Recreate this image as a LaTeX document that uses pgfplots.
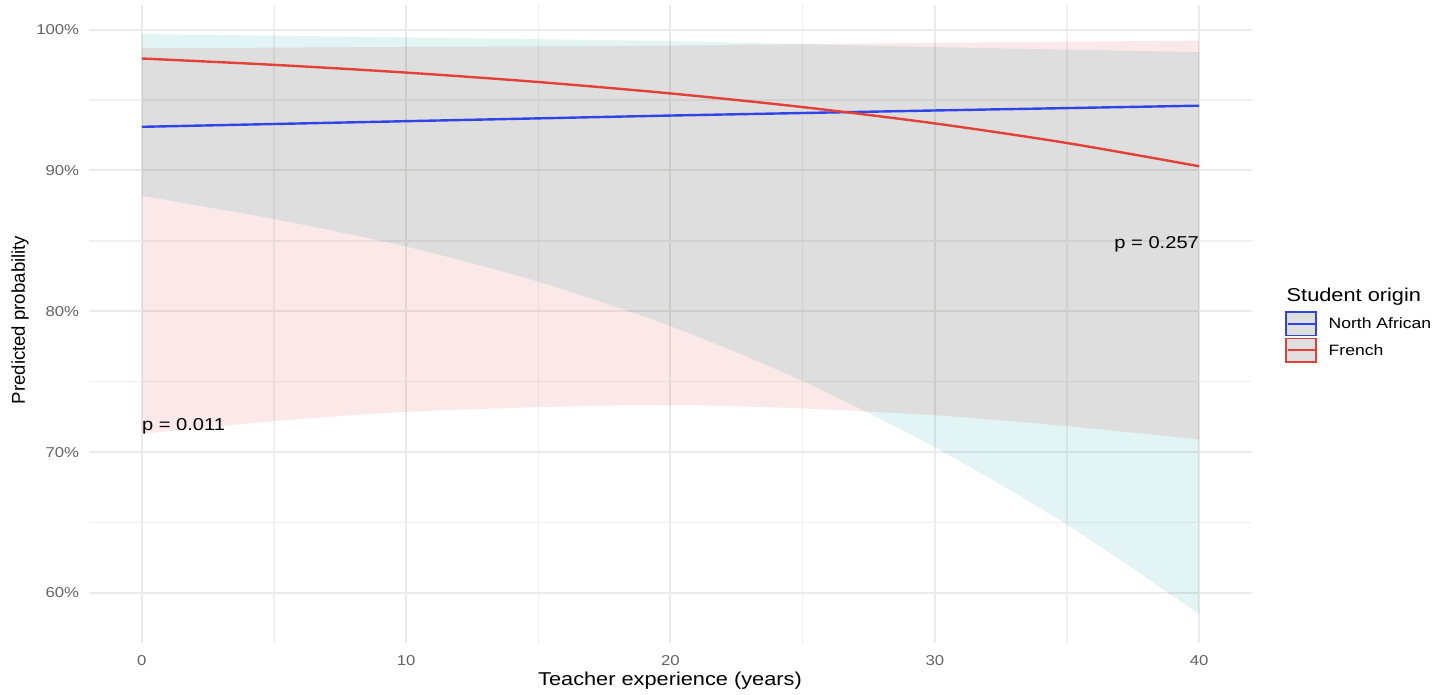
\documentclass[border=0pt]{standalone}
\usepackage{fontspec}
\setmainfont{Liberation Sans}[FakeStretch=1.17]
\newfontfamily\plainsans{Liberation Sans}
\usepackage{pgfplots}
\usepackage{pgfplotstable}
\pgfplotsset{compat=1.18}
\usepgfplotslibrary{fillbetween}
\definecolor{gridc}{RGB}{235,235,235}
\definecolor{gridm}{RGB}{240,240,240}
\definecolor{tealrib}{RGB}{226,244,243}
\definecolor{pinkrib}{RGB}{251,233,233}
\definecolor{lineblue}{RGB}{48,68,232}
\definecolor{linered}{RGB}{228,64,55}
\definecolor{keygray}{RGB}{223,223,223}
\definecolor{ticktext}{RGB}{100,100,100}

% x: teacher experience; nau/nal: North African CI; fru/frl: French CI; nam/frm: predicted (%)
\pgfplotstableread{
x   nau    nal    fru    frl    nam    frm
0   99.69  88.20  98.68  71.30  93.10  97.95
5   99.57  86.55  98.72  72.20  93.30  97.50
10  99.45  84.60  98.77  72.86  93.50  96.95
15  99.32  82.10  98.82  73.19  93.70  96.28
20  99.18  78.95  98.87  73.35  93.90  95.47
25  98.97  75.05  98.97  73.10  94.08  94.50
30  98.76  70.35  99.06  72.62  94.26  93.34
35  98.58  64.85  99.14  71.85  94.43  91.95
40  98.40  58.50  99.22  70.90  94.60  90.30
}\data

\begin{document}
\begin{tikzpicture}[x=1pt,y=1pt]
\begin{axis}[
  at={(89pt,52pt)}, anchor=south west,
  scale only axis, width=1163pt, height=638pt,
  xmin=-2, xmax=42, ymin=56.45, ymax=101.75,
  xtick={0,10,20,30,40}, minor xtick={5,15,25,35},
  ytick={60,70,80,90,100}, minor ytick={65,75,85,95},
  grid=both,
  major grid style={draw=gridc, line width=2pt},
  minor grid style={draw=gridm, line width=1.4pt},
  axis line style={draw=none},
  major tick length=0pt, minor tick length=0pt,
  tick style={draw=none},
  /pgf/number format/assume math mode=true,
  ticklabel style={font=\fontsize{14.3}{16}\selectfont, text=ticktext},
  xticklabel style={anchor=base, inner sep=0pt, yshift=-23pt},
  yticklabel style={anchor=base east, inner sep=0pt, xshift=-9.7pt, yshift=-5pt},
  yticklabel={\pgfmathprintnumber{\tick}\%},
]
\addplot[name path=nau, draw=none, smooth] table[x=x, y=nau]{\data};
\addplot[name path=nal, draw=none, smooth] table[x=x, y=nal]{\data};
\addplot[name path=fru, draw=none, smooth] table[x=x, y=fru]{\data};
\addplot[name path=frl, draw=none, smooth] table[x=x, y=frl]{\data};
\addplot[fill=tealrib, draw=none, blend mode=multiply] fill between[of=nau and nal];
\addplot[fill=pinkrib, draw=none, blend mode=multiply] fill between[of=fru and frl];
\addplot[lineblue, line width=2.4pt, smooth] table[x=x, y=nam]{\data};
\addplot[linered, line width=2.4pt, smooth] table[x=x, y=frm]{\data};
\node[anchor=base west, inner sep=0pt, font=\fontsize{17.2}{19}\selectfont] at (axis cs:0,71.54) {p = 0.011};
\node[anchor=base east, inner sep=0pt, font=\fontsize{17.2}{19}\selectfont] at (axis cs:40,84.47) {p = 0.257};
\end{axis}
% axis titles
\node[anchor=base, inner sep=0pt, font=\fontsize{18.6}{20}\selectfont] at (670,9) {Teacher experience (years)};
\node[anchor=base, inner sep=0pt, rotate=90, font=\plainsans\fontsize{18.6}{20}\selectfont] at (25,375) {Predicted probability};
% legend
\node[anchor=base west, inner sep=0pt, font=\fontsize{18.6}{20}\selectfont] at (1286.5,393.3) {Student origin};
\draw[lineblue, line width=1.5pt, fill=keygray] (1286,359.5) rectangle (1316,383);
\draw[lineblue, line width=2.2pt] (1287.5,371.2) -- (1314.5,371.2);
\draw[linered, line width=1.5pt, fill=keygray] (1286,333) rectangle (1316,356.5);
\draw[linered, line width=2.2pt] (1287.5,344.7) -- (1314.5,344.7);
\node[anchor=base west, inner sep=0pt, font=\fontsize{15}{17}\selectfont] at (1328.5,366) {North African};
\node[anchor=base west, inner sep=0pt, font=\fontsize{15}{17}\selectfont] at (1328.5,339.8) {French};
\pgfresetboundingbox
\path (0,0) rectangle (1435,695);
\end{tikzpicture}
\end{document}
